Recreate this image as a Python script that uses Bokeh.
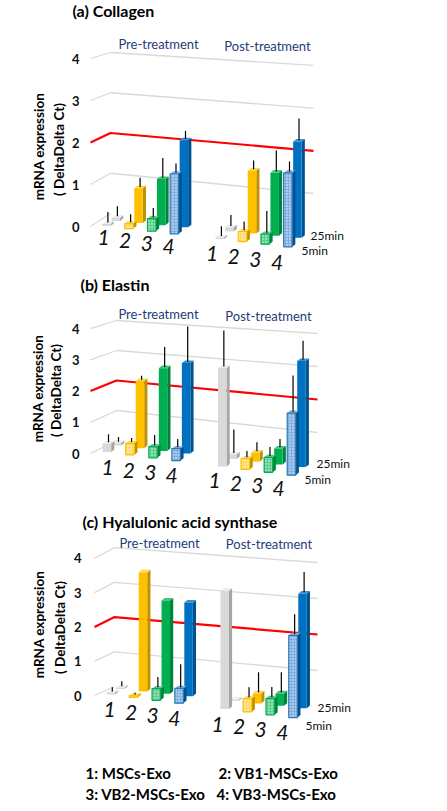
import math
from bokeh.plotting import figure
from bokeh.layouts import column
from bokeh.models import Range1d
from bokeh.core.properties import value
from bokeh.embed import file_html
from bokeh.resources import INLINE

# ---------------- data ----------------
group_labels = ["1", "2", "3", "4"]
phase_labels = ["Pre-treatment", "Post-treatment"]
time_labels = ["25min", "5min"]
legend_labels = ["1: MSCs-Exo", "2: VB1-MSCs-Exo", "3: VB2-MSCs-Exo", "4: VB3-MSCs-Exo"]
y_ticks = [0, 1, 2, 3, 4]
reference_level = 2
panel_titles = ["(a) Collagen", "(b) Elastin", "(c) Hyalulonic acid synthase"]
y_title = ["mRNA expression", "( DeltaDelta Ct)"]

# each list: Pre-treatment groups 1-4, then Post-treatment groups 1-4
collagen_25min = [0.08, 0.83, 1.10, 2.07, 0.10, 1.50, 1.50, 2.29]
collagen_25min_err = [0.24, 0.22, 0.47, 0.19, 0.26, 0.21, 0.50, 0.52]
collagen_5min = [0.05, 0.12, 0.30, 1.43, 0.04, 0.24, 0.24, 1.76]
collagen_5min_err = [0.25, 0.19, 0.22, 0.21, 0.23, 0.21, 0.52, 0.24]

elastin_25min = [0.08, 2.15, 2.65, 2.90, 0.15, 0.29, 0.51, 3.40]
elastin_25min_err = [0.15, 0.13, 0.64, 1.13, 0.75, 0.29, 0.26, 0.61]
elastin_5min = [0.27, 0.37, 0.36, 0.39, 3.16, 0.35, 0.48, 1.99]
elastin_5min_err = [0.26, 0.13, 0.33, 0.26, 1.16, 0.20, 0.29, 1.16]

has_25min = [0.04, 3.47, 2.72, 2.73, 0.04, 0.29, 0.36, 3.34]
has_25min_err = [0.15, 0.0, 0.0, 0.0, 0.0, 0.58, 0.58, 0.59]
has_5min = [0.05, 0.05, 0.34, 0.43, 3.45, 0.39, 0.48, 2.40]
has_5min_err = [0.12, 0.05, 0.30, 0.67, 0.0, 0.29, 0.29, 0.58]

# ---------------- style ----------------
FONT = value("Lato")
solid_fill = ["#D9D9D9", "#FFC000", "#00B050", "#0070C0"]
solid_side = ["#A6A6A6", "#BF9000", "#00843C", "#00528F"]
solid_top = ["#EDEDED", "#FFD54F", "#40C47C", "#3A8FD0"]
pat_fill = ["#D9D9D9", "#FFD966", "#5CCB8E", "#7FAEE0"]
pat_line = ["#BFBFBF", "#FFC000", "#00B050", "#2E75B6"]
TITLE_BLUE = "#1F3C78"
PAGE_W = 447

# layout of each 3-D panel (page pixels)
LAYOUT = [
    dict(top=0, bottom=276, zero_y=226, ppu=42.0, X0=115.3, DX=22.7,
         back=(220.5, 2.1), front=(225.5, 2.6), front_dx=-9.5,
         grid=(90, 110, 213, 40.25, 313, 235.7, 42.7), tick_x=79,
         title_xy=(72, 10), phase_x=(158, 267), phase_y=(43, 45),
         ytitle=((38, 146), (58, 149)), cat=(103, 21.7, 237, 3.1),
         time_xy=((310, 235), (301, 250))),
    dict(top=276, bottom=510, zero_y=453, ppu=31.2, X0=116.4, DX=23.07,
         back=(445, 2.7), front=(451.5, 2.9), front_dx=-10,
         grid=(90, 116, 440, 30, 317, 465, 33), tick_x=79,
         title_xy=(80, 284), phase_x=(158, 268), phase_y=(313, 315),
         ytitle=((37, 388), (55, 390)), cat=(107, 21.4, 467, 2.6),
         time_xy=((316, 463), (304, 479))),
    dict(top=510, bottom=811, zero_y=695, ppu=34.3, X0=119.7, DX=22.79,
         back=(688.5, 2.4), front=(694, 2.9), front_dx=-9.5,
         grid=(94, 114, 686, 34.7, 317, 706, 36), tick_x=81,
         title_xy=(82, 521), phase_x=(159, 268.5), phase_y=(542, 543),
         ytitle=((38, 624), (59, 627)), cat=(109, 21.6, 709, 2.9),
         time_xy=((317, 707), (305, 725))),
]


def make_panel(cfg, title, v25, e25, v5, e5, legend=False):
    X0, DX, zy, ppu = cfg["X0"], cfg["DX"], cfg["zero_y"], cfg["ppu"]

    def px(x):
        return (x - X0) / DX

    def py(y):
        return (zy - y) / ppu

    p = figure(width=PAGE_W, height=cfg["bottom"] - cfg["top"],
               x_range=Range1d(px(0), px(PAGE_W)),
               y_range=Range1d(py(cfg["bottom"]), py(cfg["top"])),
               output_backend="svg", toolbar_location=None,
               x_axis_location=None, y_axis_location=None, min_border=0)
    p.grid.visible = False
    p.outline_line_color = None
    p.background_fill_color = "white"
    p.border_fill_color = "white"

    def txt(xs, ys, texts, size, style="normal", align="left", color="#000000", angle=0.0):
        p.text(x=xs, y=ys, text=texts, text_font=FONT, text_font_size=size,
               text_font_style=style, text_align=align, text_baseline="middle",
               text_color=color, angle=angle)

    # back wall gridlines (perspective)
    gl, gc, yc0, sc, gr, yr0, sr = cfg["grid"]
    for t in y_ticks:
        xs = [px(gl), px(gc), px(gr)]
        ys = [t, py(yc0) + sc / ppu * t, py(yr0) + sr / ppu * t]
        if t == 0:
            xs, ys = xs[:2], ys[:2]
        if t == reference_level:
            p.line(xs, ys, line_color="#FF0000", line_width=2.2)
        else:
            p.line(xs, ys, line_color="#D9D9D9", line_width=1.3)

    # tick labels
    txt([px(cfg["tick_x"])] * len(y_ticks), y_ticks, [str(t) for t in y_ticks],
        "13px", "bold", "right", "#111111")

    # bars: back row (25 min) then front row (5 min)
    w = 8.5 / DX
    sx, sy = 3.2 / DX, 2.6 / ppu
    for depth, (vals, errs) in enumerate([(v25, e25), (v5, e5)]):
        b0, bs = cfg["front"] if depth else cfg["back"]
        fx = cfg["front_dx"] / DX if depth else 0.0
        L, R, B, T, fills, lines, hatched = [], [], [], [], [], [], []
        side_xs, side_ys, side_c, top_xs, top_ys, top_c = [], [], [], [], [], []
        ex, ey0, ey1 = [], [], []
        for j, v in enumerate(vals):
            g = j % 4
            k = g + 5 * (j // 4)
            cx = k + fx
            base = py(b0 + bs * k)
            top = base + v
            l, r = cx - w / 2, cx + w / 2
            L.append(l); R.append(r); B.append(base); T.append(top)
            pattern = depth == 1 and g > 0
            fills.append(pat_fill[g] if pattern else solid_fill[g])
            lines.append(pat_line[g] if pattern else None)
            hatched.append(pattern)
            side_xs.append([r, r + sx, r + sx, r])
            side_ys.append([base, base + sy, top + sy, top])
            side_c.append(solid_side[g])
            top_xs.append([l, r, r + sx, l + sx])
            top_ys.append([top, top, top + sy, top + sy])
            top_c.append(pat_fill[g] if pattern else solid_top[g])
            if errs[j] > 0:
                ex.append(cx + sx / 2)
                ey0.append(top + sy / 2)
                ey1.append(top + sy / 2 + errs[j])
        p.patches(side_xs, side_ys, fill_color=side_c, line_color=None)
        p.patches(top_xs, top_ys, fill_color=top_c, line_color=None)
        idx_plain = [i for i in range(len(L)) if not hatched[i]]
        idx_hat = [i for i in range(len(L)) if hatched[i]]
        if idx_plain:
            p.quad(left=[L[i] for i in idx_plain], right=[R[i] for i in idx_plain],
                   bottom=[B[i] for i in idx_plain], top=[T[i] for i in idx_plain],
                   fill_color=[fills[i] for i in idx_plain], line_color=None)
        if idx_hat:
            p.quad(left=[L[i] for i in idx_hat], right=[R[i] for i in idx_hat],
                   bottom=[B[i] for i in idx_hat], top=[T[i] for i in idx_hat],
                   fill_color=[fills[i] for i in idx_hat],
                   line_color=[lines[i] for i in idx_hat], line_width=1.2,
                   hatch_pattern="dot", hatch_color="white", hatch_scale=3.0,
                   hatch_weight=1.0, hatch_alpha=0.9)
        p.segment(x0=ex, y0=ey0, x1=ex, y1=ey1, line_color="#000000", line_width=1.2)

    # category numbers on the floor
    cx0, cdx, cy0, cdy = cfg["cat"]
    cat_x, cat_y, cat_t = [], [], []
    for ph in range(2):
        for g, lab in enumerate(group_labels):
            k = g + 5 * ph
            cat_x.append(px(cx0 + cdx * k))
            cat_y.append(py(cy0 + cdy * k))
            cat_t.append(lab)
    txt(cat_x, cat_y, cat_t, "21px", "italic", "center", "#111111")

    # depth (time) labels
    (tx1, ty1), (tx2, ty2) = cfg["time_xy"]
    txt([px(tx1), px(tx2)], [py(ty1), py(ty2)], time_labels, "12px", "normal", "left", "#111111")

    # phase labels
    txt([px(x) for x in cfg["phase_x"]], [py(y) for y in cfg["phase_y"]], phase_labels,
        "13px", "normal", "center", TITLE_BLUE)

    # title
    tx, ty = cfg["title_xy"]
    txt([px(tx)], [py(ty)], [title], "16px", "bold", "left", "#000000")

    # y title (rotated)
    (a1x, a1y), (a2x, a2y) = cfg["ytitle"]
    txt([px(a1x), px(a2x)], [py(a1y), py(a2y)], y_title, "13.5px", "bold", "center",
        "#000000", math.pi / 2)

    if legend:
        txt([px(85), px(218), px(85), px(216)], [py(772), py(772), py(793), py(793)],
            legend_labels, "15px", "bold", "left", "#000000")
    return p


p1 = make_panel(LAYOUT[0], panel_titles[0], collagen_25min, collagen_25min_err,
                collagen_5min, collagen_5min_err)
p2 = make_panel(LAYOUT[1], panel_titles[1], elastin_25min, elastin_25min_err,
                elastin_5min, elastin_5min_err)
p3 = make_panel(LAYOUT[2], panel_titles[2], has_25min, has_25min_err,
                has_5min, has_5min_err, legend=True)

layout = column(p1, p2, p3, spacing=0)
open("out.html", "w").write(file_html(layout, INLINE))
